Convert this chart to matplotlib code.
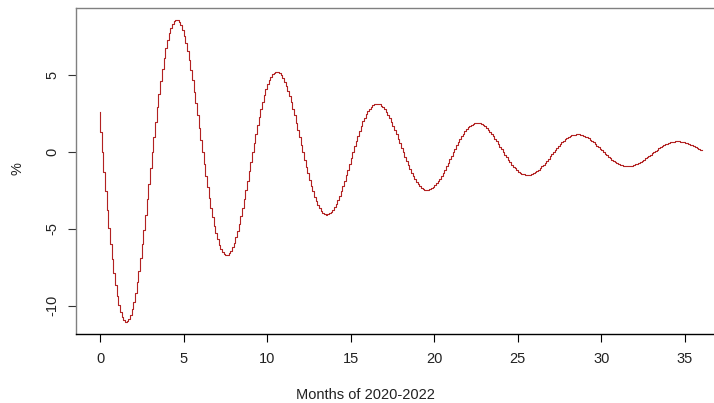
import numpy as np
from matplotlib import pyplot as plt

############################################
###  Data (% per 0.1 month step)
############################################

pct_2020 = [2.64, 1.32, 0.00, -1.29, -2.55, -3.76, -4.91, -5.99, -6.98, -7.88,
            -8.68, -9.37, -9.95, -10.41, -10.75, -10.96, -11.05, -11.02, -10.87, -10.60,
            -10.22, -9.74, -9.15, -8.48, -7.72, -6.90, -6.01, -5.07, -4.09, -3.08,
            -2.06, -1.03, 0.00, 1.01, 1.99, 2.93, 3.82, 4.66, 5.44, 6.14,
            6.76, 7.30, 7.75, 8.10, 8.37, 8.53, 8.60, 8.58, 8.46, 8.25,
            7.96, 7.58, 7.13, 6.60, 6.01, 5.37, 4.68, 3.95, 3.18, 2.40,
            1.60, 0.80, 0.00, -0.78, -1.55, -2.28, -2.98, -3.63, -4.23, -4.78,
            -5.26, -5.68, -6.03, -6.31, -6.51, -6.64, -6.70, -6.68, -6.59, -6.42,
            -6.19, -5.90, -5.55, -5.14, -4.68, -4.18, -3.64, -3.07, -2.48, -1.87,
            -1.25, -0.62, 0.00, 0.61, 1.21, 1.78, 2.32, 2.83, 3.29, 3.72,
            4.10, 4.42, 4.69, 4.91, 5.07, 5.17, 5.21, 5.20, 5.13, 5.00,
            4.82, 4.59, 4.32, 4.00, 3.64, 3.25, 2.83, 2.39, 1.93, 1.45]

pct_2021 = [0.97, 0.48, 0.00, -0.48, -0.94, -1.38, -1.80, -2.20, -2.56, -2.89,
            -3.19, -3.44, -3.65, -3.82, -3.95, -4.02, -4.06, -4.05, -3.99, -3.89,
            -3.75, -3.57, -3.36, -3.11, -2.84, -2.53, -2.21, -1.86, -1.50, -1.13,
            -0.75, -0.38, 0.00, 0.37, 0.73, 1.08, 1.40, 1.71, 2.00, 2.25,
            2.48, 2.68, 2.84, 2.97, 3.07, 3.13, 3.16, 3.15, 3.11, 3.03,
            2.92, 2.78, 2.62, 2.42, 2.21, 1.97, 1.72, 1.45, 1.17, 0.88,
            0.59, 0.29, 0.00, -0.29, -0.57, -0.84, -1.09, -1.33, -1.55, -1.75,
            -1.93, -2.09, -2.21, -2.32, -2.39, -2.44, -2.46, -2.45, -2.42, -2.36,
            -2.27, -2.17, -2.04, -1.89, -1.72, -1.53, -1.34, -1.13, -0.91, -0.69,
            -0.46, -0.23, 0.00, 0.22, 0.44, 0.65, 0.85, 1.04, 1.21, 1.37,
            1.50, 1.62, 1.72, 1.80, 1.86, 1.90, 1.91, 1.91, 1.88, 1.84,
            1.77, 1.69, 1.59, 1.47, 1.34, 1.19, 1.04, 0.88, 0.71, 0.53]

pct_2022 = [0.36, 0.18, 0.00, -0.17, -0.34, -0.51, -0.66, -0.81, -0.94, -1.06,
            -1.17, -1.26, -1.34, -1.40, -1.45, -1.48, -1.49, -1.49, -1.47, -1.43,
            -1.38, -1.31, -1.23, -1.14, -1.04, -0.93, -0.81, -0.68, -0.55, -0.42,
            -0.28, -0.14, 0.00, 0.14, 0.27, 0.40, 0.52, 0.63, 0.73, 0.83,
            0.91, 0.98, 1.04, 1.09, 1.13, 1.15, 1.16, 1.16, 1.14, 1.11,
            1.07, 1.02, 0.96, 0.89, 0.81, 0.72, 0.63, 0.53, 0.43, 0.32,
            0.22, 0.11, 0.00, -0.11, -0.21, -0.31, -0.40, -0.49, -0.57, -0.64,
            -0.71, -0.77, -0.81, -0.85, -0.88, -0.90, -0.90, -0.90, -0.89, -0.87,
            -0.84, -0.80, -0.75, -0.69, -0.63, -0.56, -0.49, -0.41, -0.33, -0.25,
            -0.17, -0.08, 0.00, 0.08, 0.16, 0.24, 0.31, 0.38, 0.44, 0.50,
            0.55, 0.60, 0.63, 0.66, 0.68, 0.70, 0.70, 0.70, 0.69, 0.67,
            0.65, 0.62, 0.58, 0.54, 0.49, 0.44, 0.38, 0.32, 0.26, 0.20,
            0.13]

x_ticks = [0, 5, 10, 15, 20, 25, 30, 35]
y_ticks = [-10, -5, 0, 5]

pct = np.array(pct_2020 + pct_2021 + pct_2022)
months = np.arange(len(pct)) * 0.1     ### one value every tenth of a month

############################################
###  Plot
############################################

plt.rcParams['font.family'] = ['Liberation Sans', 'DejaVu Sans']

W, H = 714, 403
fig = plt.figure(figsize=(W / 100, H / 100), dpi=100)

left, right, top, bottom = 76, 714, 7.5, 334      ### pixel box of the plot region
ax = fig.add_axes([left / W, 1 - bottom / H, (right - left) / W, (bottom - top) / H])

ax.step(months, pct, where="pre", color="#b22222", linewidth=0.8)

ax.set_xlim(-1.436, 36.736)
ax.set_ylim(-11.84, 9.42)

ax.set_xticks(x_ticks)
ax.set_yticks(y_ticks)
ax.set_yticklabels([str(v) for v in y_ticks], rotation=90, va="center")

ax.tick_params(axis="x", length=6, width=0.8, color="black", pad=7,
               labelsize=10.5, labelcolor="#222222")
ax.tick_params(axis="y", length=6, width=0.8, color="#333333", pad=6,
               labelsize=10.5, labelcolor="#222222")

ax.spines["right"].set_visible(False)
ax.spines["left"].set_color("#808080")
ax.spines["top"].set_color("#808080")
ax.spines["bottom"].set_color("black")
for s in ["left", "top", "bottom"]:
    ax.spines[s].set_linewidth(1.0)

fig.text(365 / W, 1 - 395 / H, "Months of 2020-2022", ha="center", va="center",
         fontsize=10.5, color="#222222")
fig.text(17 / W, 1 - 169 / H, "%", ha="center", va="center", rotation=90,
         fontsize=10.5, color="#222222")

plt.savefig("out.png", dpi=100)
